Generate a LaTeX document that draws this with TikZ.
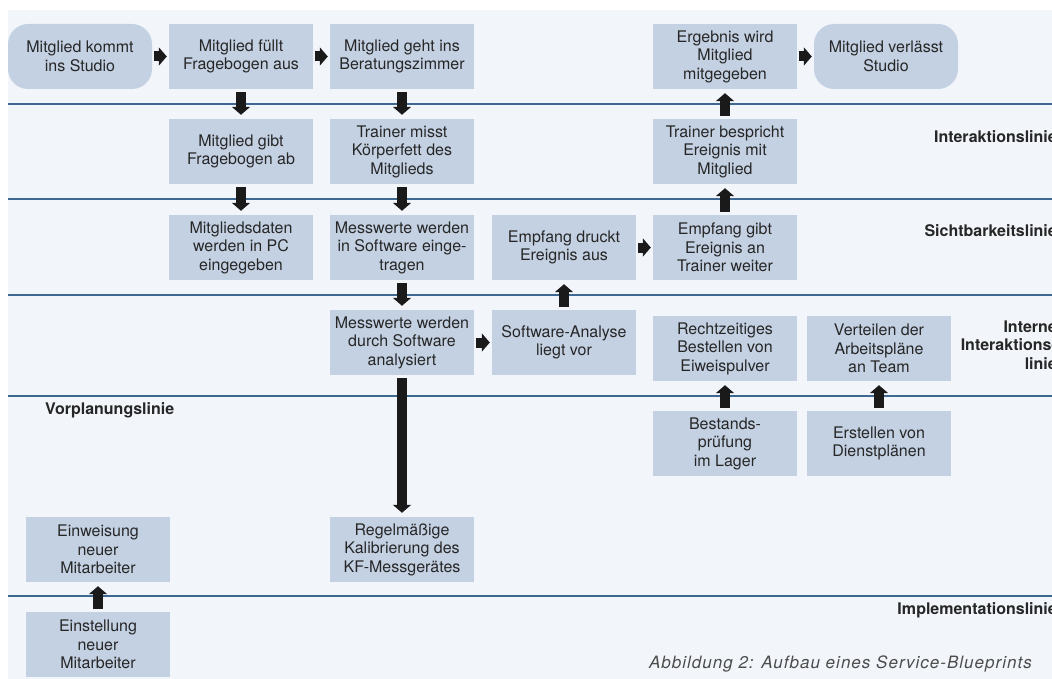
\documentclass[tikz,border=0pt]{standalone}
\usepackage{fontspec}
\setmainfont{TeX Gyre Heros}
\usetikzlibrary{arrows.meta}
\definecolor{boxblau}{RGB}{196,209,227}
\definecolor{grund}{RGB}{242,245,250}
\definecolor{linienblau}{RGB}{62,104,146}
\definecolor{pfeil}{RGB}{26,26,26}
\begin{document}
\begin{tikzpicture}[x=1pt,y=-1pt,
 schritt/.style={fill=boxblau,minimum width=144pt,minimum height=65pt,inner sep=0pt,align=center,text=black!85,font=\fontsize{16}{18.5}\selectfont},
 rund/.style={schritt,rounded corners=20pt},
 vblk/.style={draw=pfeil,line width=10pt,-{Triangle[width=18pt,length=8pt]},shorten <=3pt,shorten >=4pt},
 hblk/.style={vblk,shorten <=2pt,shorten >=2pt},
 marke/.style={font=\bfseries\fontsize{16}{18.5}\selectfont,text=black!85,align=right,anchor=east,inner sep=0pt}]
 \useasboundingbox (0,0) rectangle (1052,679);
 \fill[grund] (8,10) rectangle (1052,679);
 \foreach \y in {104,199,295,396,596}
 \draw[linienblau,line width=1.5pt] (8,\y)--(1052,\y);
 % Kundenaktionen
 \node[rund] (kommt) at (80,56.5) {Mitglied kommt\\ins Studio};
 \node[schritt] (fuellt) at (241,56.5) {Mitglied füllt\\Fragebogen aus};
 \node[schritt] (geht) at (402,56.5) {Mitglied geht ins\\Beratungszimmer};
 \node[schritt] (ergebnis) at (725,56.5) {Ergebnis wird\\Mitglied\\mitgegeben};
 \node[rund] (verlaesst) at (886,56.5) {Mitglied verlässt\\Studio};
 % Onstage
 \node[schritt] (gibt) at (241,151.5) {Mitglied gibt\\Fragebogen ab};
 \node[schritt] (misst) at (402,151.5) {Trainer misst\\Körperfett des\\Mitglieds};
 \node[schritt] (bespricht) at (725,151.5) {Trainer bespricht\\Ereignis mit\\Mitglied};
 % Backstage
 \node[schritt] (daten) at (241,247.5) {Mitgliedsdaten\\werden in PC\\eingegeben};
 \node[schritt] (eintrag) at (402,247.5) {Messwerte werden\\in Software einge-\\tragen};
 \node[schritt] (druckt) at (564,247.5) {Empfang druckt\\Ereignis aus};
 \node[schritt] (weiter) at (725,247.5) {Empfang gibt\\Ereignis an\\Trainer weiter};
 % Unterstuetzung
 \node[schritt] (analyse) at (402,342.5) {Messwerte werden\\durch Software\\analysiert};
 \node[schritt] (vorlage) at (564,342.5) {Software-Analyse\\liegt vor};
 \node[schritt] (bestellen) at (725,348.5) {Rechtzeitiges\\Bestellen von\\Eiweispulver};
 \node[schritt] (verteilen) at (879,348.5) {Verteilen der\\Arbeitspläne\\an Team};
 \node[schritt] (lager) at (725,443.5) {Bestands-\\prüfung\\im Lager};
 \node[schritt] (dienst) at (879,443.5) {Erstellen von\\Dienstplänen};
 \node[schritt] (kalib) at (402,549.5) {Regelmäßige\\Kalibrierung des\\KF-Messgerätes};
 \node[schritt] (einweisung) at (98,549.5) {Einweisung\\neuer\\Mitarbeiter};
 \node[schritt] (einstellung) at (98,644.5) {Einstellung\\neuer\\Mitarbeiter};
 % Linien
 \node[marke] (interaktion) at (1057,137) {Interaktionslinie};
 \node[marke] (sicht) at (1057,231) {Sichtbarkeitslinie};
 \node[marke] (intern) at (1057,345) {Interne\\Interaktions-\\linie};
 \node[marke,anchor=west] (vorplanung) at (45,410) {Vorplanungslinie};
 \node[marke] (impl) at (1057,610) {Implementationslinie};
 \node[anchor=east,inner sep=0pt,text=black!70,font=\fontsize{17}{19}\selectfont\itshape\addfontfeature{LetterSpace=6}] (titel) at (1032,664) {Abbildung 2: Aufbau eines Service-Blueprints};
 % Pfeile
 \foreach \a/\b in {kommt/fuellt,fuellt/geht,ergebnis/verlaesst,analyse/vorlage,druckt/weiter}
 \draw[hblk] (\a) -- (\b);
 \foreach \a/\b in {fuellt/gibt,gibt/daten,geht/misst,misst/eintrag,eintrag/analyse,analyse/kalib,vorlage/druckt,weiter/bespricht,bespricht/ergebnis,lager/bestellen,dienst/verteilen,einstellung/einweisung}
 \draw[vblk] (\a) -- (\b);
\end{tikzpicture}
\end{document}
